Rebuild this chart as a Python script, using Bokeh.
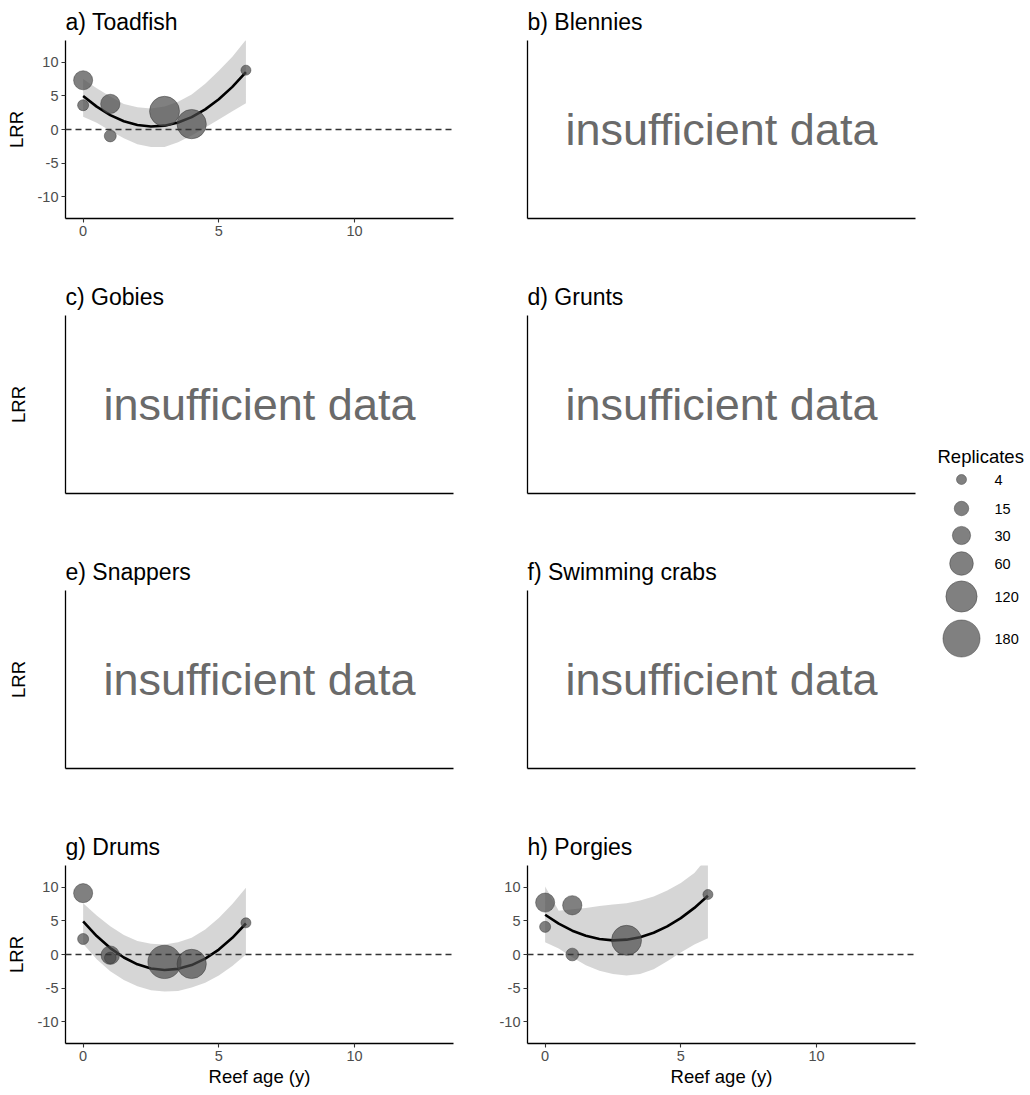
import numpy as np
from bokeh.plotting import figure
from bokeh.layouts import row, column
from bokeh.models import Range1d, Span, FixedTicker
from bokeh.core.properties import value
from bokeh.embed import file_html
from bokeh.resources import INLINE

FONT = "Liberation Sans"

# ---------------- data ----------------
x_ticks = [0, 5, 10]
y_ticks = [-10, -5, 0, 5, 10]
y_tick_labels = ["-10", "-5", "0", "5", "10"]

age_grid = [0, 0.5, 1, 1.5, 2, 2.5, 3, 3.5, 4, 4.5, 5, 5.5, 6]

toad_age = [0, 0, 1, 1, 3, 4, 6]
toad_lrr = [7.3, 3.6, 3.8, -0.95, 2.7, 0.8, 8.8]
toad_n = [34, 6, 35, 8, 109, 103, 4]
toad_fit = [4.98, 3.39, 2.14, 1.23, 0.67, 0.44, 0.57, 1.03, 1.84, 2.99, 4.48, 6.32, 8.50]
toad_lo = [1.9, 1.0, -0.2, -1.3, -2.2, -2.6, -2.6, -1.9, -0.9, 0.3, 1.5, 2.7, 3.9]
toad_hi = [7.5, 6.1, 4.9, 3.8, 3.3, 3.1, 3.4, 4.1, 5.2, 6.8, 8.7, 10.8, 13.3]

drum_age = [0, 0, 1, 1, 3, 4, 6]
drum_lrr = [9.1, 2.3, -0.1, -0.5, -1.1, -1.4, 4.7]
drum_n = [34, 6, 31, 7, 140, 103, 4]
drum_fit = [4.93, 2.74, 0.95, -0.45, -1.46, -2.08, -2.30, -2.13, -1.57, -0.62, 0.73, 2.47, 4.60]
drum_lo = [1.6, -0.7, -2.5, -3.8, -4.7, -5.3, -5.5, -5.4, -4.9, -4.2, -3.1, -1.7, 0.0]
drum_hi = [7.6, 5.8, 4.2, 2.9, 2.0, 1.6, 1.5, 1.8, 2.5, 3.7, 5.4, 7.5, 9.9]

porgy_age = [0, 0, 1, 1, 3, 6]
porgy_lrr = [7.7, 4.1, 7.3, 0.0, 2.1, 8.9]
porgy_n = [34, 6, 35, 10, 109, 4]
porgy_fit = [5.90, 4.57, 3.53, 2.77, 2.30, 2.10, 2.20, 2.57, 3.23, 4.17, 5.40, 6.91, 8.70]
porgy_lo = [1.8, 0.9, -0.4, -1.6, -2.4, -2.9, -3.1, -2.9, -2.2, -1.0, 0.3, 1.5, 2.4]
porgy_hi = [10.1, 6.5, 6.7, 6.9, 7.2, 7.4, 7.6, 8.0, 8.6, 9.5, 10.6, 12.1, 14.5]

panel_titles = ["a) Toadfish", "b) Blennies", "c) Gobies", "d) Grunts",
                "e) Snappers", "f) Swimming crabs", "g) Drums", "h) Porgies"]
legend_breaks = [4, 15, 30, 60, 120, 180]
legend_title = "Replicates"
empty_note = "insufficient data"

PT_FILL = "#4a4a4a"
PT_LINE = "#333333"


def size_px(n):
    # area scale: diameter linear in sqrt(replicates)
    return 5.26 + 2.37 * np.sqrt(np.asarray(n, dtype=float))


def style_axes(p, show_ticks, ylab, xlab):
    for ax in (p.xaxis[0], p.yaxis[0]):
        ax.axis_line_color = "black"
        ax.axis_line_width = 1.3
        ax.minor_tick_line_color = None
        ax.major_label_text_font = FONT
        ax.major_label_text_font_size = "14.5px"
        ax.major_label_text_color = "#4d4d4d"
        ax.axis_label_text_font = FONT
        ax.axis_label_text_font_size = "18.5px"
        ax.axis_label_text_font_style = "normal"
        ax.axis_label_text_color = "black"
        if show_ticks:
            ax.major_tick_line_color = "#333333"
            ax.major_tick_line_width = 1.1
            ax.major_tick_out = 4
            ax.major_tick_in = 0
            ax.major_label_standoff = 3
        else:
            ax.ticker = FixedTicker(ticks=[])
            ax.major_tick_out = 0
            ax.major_tick_in = 0
            ax.major_label_standoff = 0
    if show_ticks:
        p.xaxis[0].ticker = FixedTicker(ticks=x_ticks)
        p.yaxis[0].ticker = FixedTicker(ticks=y_ticks)
        p.yaxis[0].major_label_overrides = dict(zip(y_ticks, y_tick_labels))
        p.yaxis[0].axis_label_standoff = 8
    else:
        p.yaxis[0].axis_label_standoff = 37
    p.xaxis[0].axis_label_standoff = 2
    if ylab:
        p.yaxis[0].axis_label = "LRR"
    if xlab:
        p.xaxis[0].axis_label = "Reef age (y)"


def make_panel(idx, data=None):
    col = idx % 2
    r = idx // 2
    last = (r == 3)
    p = figure(width=465, height=270 if last else 275,
               x_range=Range1d(-0.65, 13.65), y_range=Range1d(-13.2, 13.2),
               output_backend="svg", toolbar_location=None,
               min_border_left=65 if col == 0 else 62,
               min_border_right=12 if col == 0 else 15,
               min_border_top=40, min_border_bottom=52 if last else 57,
               title=panel_titles[idx])
    p.title.text_font = FONT
    p.title.text_font_size = "23px"
    p.title.text_font_style = "normal"
    p.title.text_color = "black"
    p.title.align = "left"
    p.title.standoff = 11
    p.outline_line_color = None
    p.xgrid.grid_line_color = None
    p.ygrid.grid_line_color = None
    p.background_fill_color = "white"
    p.border_fill_color = "white"
    style_axes(p, data is not None, ylab=(col == 0), xlab=last)

    if data is None:
        xc = (p.x_range.start + p.x_range.end) / 2
        yc = (p.y_range.start + p.y_range.end) / 2
        p.text(x=[xc], y=[yc], text=[empty_note], text_align="center",
               text_baseline="middle", text_font=value(FONT),
               text_font_size="45px", text_color="#6a6a6a")
    else:
        ages, lrr, n, fit, lo, hi = data
        p.varea(x=age_grid, y1=lo, y2=hi, fill_color="#999999", fill_alpha=0.4)
        p.add_layout(Span(location=0, dimension="width", line_color="#333333",
                          line_width=1.4, line_dash="6 4"))
        p.line(age_grid, fit, line_color="black", line_width=2.6)
        p.scatter(ages, lrr, size=size_px(n), fill_color=PT_FILL, fill_alpha=0.7,
                  line_color=PT_LINE, line_alpha=0.45, line_width=1)
    return p


panels = []
for i in range(8):
    if i == 0:
        d = (toad_age, toad_lrr, toad_n, toad_fit, toad_lo, toad_hi)
    elif i == 6:
        d = (drum_age, drum_lrr, drum_n, drum_fit, drum_lo, drum_hi)
    elif i == 7:
        d = (porgy_age, porgy_lrr, porgy_n, porgy_fit, porgy_lo, porgy_hi)
    else:
        d = None
    panels.append(make_panel(i, d))

# ---------------- legend ----------------
leg = figure(width=100, height=1095, x_range=Range1d(0, 100), y_range=Range1d(1095, 0),
             output_backend="svg", toolbar_location=None,
             x_axis_location=None, y_axis_location=None,
             min_border_left=0, min_border_right=0, min_border_top=0, min_border_bottom=0)
leg.outline_line_color = None
leg.xgrid.grid_line_color = None
leg.ygrid.grid_line_color = None
leg_y = [479, 508, 535, 563, 596, 638]
leg.scatter([31] * len(legend_breaks), leg_y, size=size_px(legend_breaks),
            fill_color=PT_FILL, fill_alpha=0.7, line_color=PT_LINE, line_alpha=0.45)
leg.text(x=[64] * len(legend_breaks), y=leg_y, text=[str(b) for b in legend_breaks],
         text_baseline="middle", text_align="left", text_font=value(FONT),
         text_font_size="14.5px", text_color="black")
leg.text(x=[7], y=[456], text=[legend_title], text_baseline="alphabetic",
         text_align="left", text_font=value(FONT), text_font_size="18.5px",
         text_color="black")

grid = column(row(panels[0], panels[1]), row(panels[2], panels[3]),
              row(panels[4], panels[5]), row(panels[6], panels[7]))
layout = row(grid, leg)

open("out.html", "w").write(file_html(layout, INLINE))
